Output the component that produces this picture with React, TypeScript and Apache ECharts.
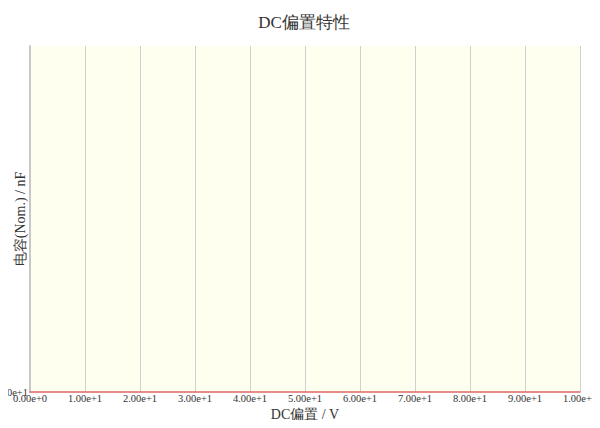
import React, { useEffect, useRef } from "react";
import * as echarts from "echarts";

const chartTitle = "DC偏置特性";
const xAxisName = "DC偏置 / V";
const yAxisName = "电容(Nom.) / nF";
const xTicks = [0, 10, 20, 30, 40, 50, 60, 70, 80, 90, 100];
const yTickLabels = ["0.00e+1"];
const seriesValues: [number, number][] = [];

const FONT = "serif";

export default function App() {
  const ref = useRef<HTMLDivElement>(null);
  useEffect(() => {
    if (!ref.current) return;
    const chart = echarts.init(ref.current, undefined, { renderer: "svg" });
    chart.setOption({
      animation: false,
      textStyle: { fontFamily: FONT },
      title: {
        text: chartTitle,
        left: "center",
        top: 1,
        textStyle: { fontFamily: FONT, fontSize: 17, fontWeight: "normal", color: "#333" },
      },
      grid: {
        left: 22,
        right: 20,
        top: 38,
        bottom: 28,
        containLabel: false,
        outerBoundsMode: "none",
        show: true,
        backgroundColor: "#fffff0",
        borderWidth: 0,
      },
      xAxis: {
        type: "value",
        min: xTicks[0],
        max: xTicks[xTicks.length - 1],
        interval: 10,
        name: xAxisName,
        nameLocation: "middle",
        nameGap: 15,
        nameMoveOverlap: false,
        nameTextStyle: { fontFamily: FONT, fontSize: 14, color: "#333" },
        axisLine: { show: true, lineStyle: { color: "#e06666", width: 1.5 } },
        axisTick: { show: false },
        axisLabel: {
          margin: 1,
          fontFamily: FONT,
          fontSize: 10.5,
          color: "#333",
          overflow: "none",
          hideOverlap: false,
          formatter: (v: number) => v.toExponential(2),
        },
        splitLine: { show: true, lineStyle: { color: "#d0d0d0", width: 1 } },
      },
      yAxis: {
        type: "value",
        min: 0,
        max: 1,
        interval: 1,
        name: yAxisName,
        nameLocation: "middle",
        nameGap: 3,
        nameMoveOverlap: false,
        nameTextStyle: { fontFamily: FONT, fontSize: 14, color: "#333" },
        axisLine: { show: true, lineStyle: { color: "#c8c8c8", width: 2 } },
        axisTick: { show: false },
        axisLabel: {
          margin: 2,
          fontFamily: FONT,
          fontSize: 10.5,
          color: "#333",
          overflow: "none",
          showMaxLabel: false,
          formatter: (_v: number, i: number) => yTickLabels[i] ?? "",
        },
        splitLine: { show: false },
      },
      series: [
        {
          type: "line",
          data: seriesValues,
          showSymbol: false,
        },
      ],
    });
    return () => chart.dispose();
  }, []);
  return <div ref={ref} style={{ width: 592, height: 412 }} />;
}
